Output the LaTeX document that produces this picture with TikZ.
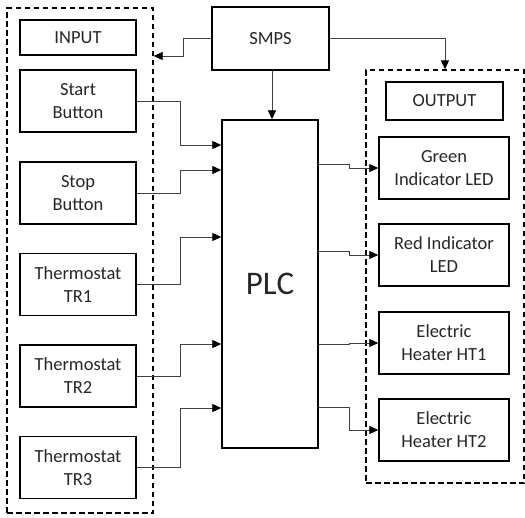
\documentclass[tikz,border=0pt]{standalone}
\usepackage{fontspec}
\setmainfont{Carlito}
\usetikzlibrary{arrows.meta}

\begin{document}
\begin{tikzpicture}[
		x=1pt, y=-1pt,
		box/.style={
			draw, line width=1.4pt, rectangle,
			minimum width=116pt, minimum height=62pt,
			font=\fontsize{18.5}{23}\selectfont, text=black!85,
			align=center, inner sep=2pt
		},
		obox/.style={box, minimum width=130pt},
		grp/.style={
			draw, line width=1.3pt, rectangle,
			dash pattern=on 5.5pt off 3.5pt
		},
		wire/.style={line width=0.8pt, black!75},
		arr/.style={wire, -{Triangle[length=9pt, width=8pt, color=black]}},
		]
		\useasboundingbox (0,0) rectangle (525,517);
		
		% dashed groups
		\node[grp, minimum width=146pt, minimum height=505pt] (ingrp)  at (80, 260.5) {};
		\node[grp, minimum width=158pt, minimum height=413pt] (outgrp) at (445, 276.5) {};
		
		% input side
		\node[box, minimum height=35pt] (input) at (78, 37.5) {INPUT};
		\node[box] (start) at (78, 101)   {Start\\Button};
		\node[box] (stop)  at (78, 193)   {Stop\\Button};
		\node[box] (tr1)   at (78, 284.5) {Thermostat\\TR1};
		\node[box] (tr2)   at (78, 376)   {Thermostat\\TR2};
		\node[box] (tr3)   at (78, 467.5) {Thermostat\\TR3};
		
		% supply and controller
		\node[box, minimum width=117pt, minimum height=63pt] (smps) at (270.5, 38.5) {SMPS};
		\node[box, minimum width=96pt, minimum height=328pt,
			font=\fontsize{33}{36}\selectfont] (plc) at (270, 284) {PLC};
		
		% output side
		\node[box, minimum width=117pt, minimum height=38pt] (output) at (444.5, 101) {OUTPUT};
		\node[obox] (green) at (444, 168) {Green\\Indicator LED};
		\node[obox] (red)   at (444, 255) {Red Indicator\\LED};
		\node[obox] (ht1)   at (444, 343) {Electric\\Heater HT1};
		\node[obox] (ht2)   at (444, 430) {Electric\\Heater HT2};
		
		% bend columns and ports
		\coordinate (xs) at (183, 0);
		\coordinate (xd) at (272, 0);
		\coordinate (xi) at (180, 0);
		\coordinate (xo) at (349, 0);
		\coordinate (inpwr) at (ingrp.east |- 0,56);
		\coordinate (in1) at (plc.west |- 0,145);
		\coordinate (in2) at (plc.west |- 0,170);
		\coordinate (in3) at (plc.west |- 0,237);
		\coordinate (in4) at (plc.west |- 0,344);
		\coordinate (in5) at (plc.west |- 0,408);
		\coordinate (out1) at (plc.east |- 0,164);
		\coordinate (out2) at (plc.east |- 0,251);
		\coordinate (out3) at (plc.east |- 0,344);
		\coordinate (out4) at (plc.east |- 0,407);
		
		% power
		\draw[arr] (smps.west) -- (xs |- smps.west) |- (inpwr);
		\draw[arr] (smps.east) -| (outgrp.north);
		\draw[arr] (xd |- smps.south) -- (xd |- plc.north);
		
		% inputs
		\draw[arr] (start.east) -- (xi |- start.east) |- (in1);
		\draw[arr] (stop.east)  -- (xi |- stop.east)  |- (in2);
		\draw[arr] (tr1.east)   -- (xi |- tr1.east)   |- (in3);
		\draw[arr] (tr2.east)   -- (xi |- tr2.east)   |- (in4);
		\draw[arr] (tr3.east)   -- (xi |- tr3.east)   |- (in5);
		
		% outputs
		\draw[arr] (out1) -- (xo |- out1) |- (green.west);
		\draw[arr] (out2) -- (xo |- out2) |- (red.west);
		\draw[arr] (out3) -- (xo |- out3) |- (ht1.west);
		\draw[arr] (out4) -- (xo |- out4) |- (ht2.west);
		
	\end{tikzpicture}
\end{document}
